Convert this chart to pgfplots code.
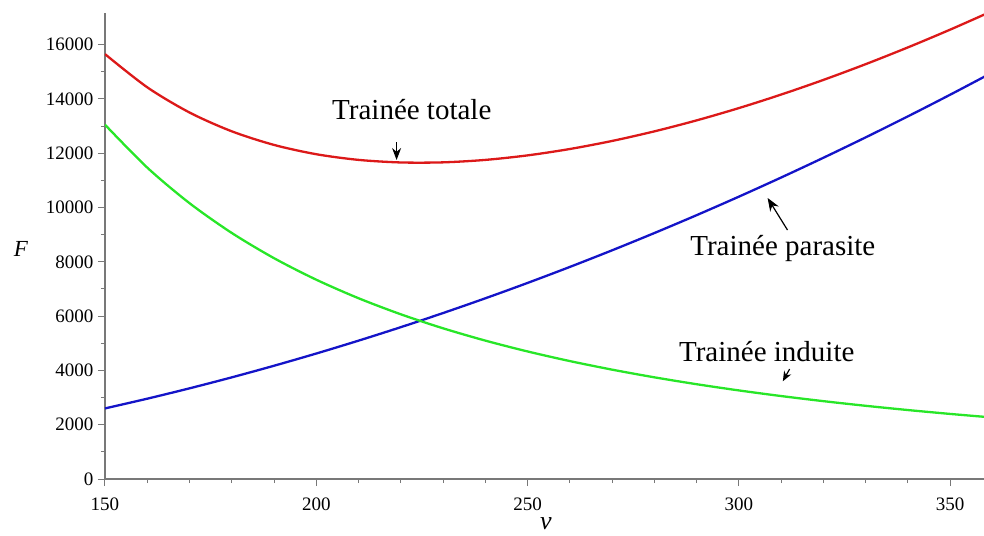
\documentclass[border=0pt]{standalone}
\usepackage{pgfplots}
\pgfplotsset{compat=1.18}
\usepackage{fontspec}
\setmainfont{Liberation Serif}
\usetikzlibrary{arrows.meta}
\definecolor{cred}{RGB}{220,25,25}
\definecolor{cblue}{RGB}{20,20,200}
\definecolor{cgreen}{RGB}{40,230,40}
\definecolor{axgray}{RGB}{120,120,120}
\pgfplotstableread{
v P I T
150 2600.0 13050.0 15650.0
160 2958.2 11469.7 14427.9
170 3339.6 10160.0 13499.6
180 3744.0 9062.5 12806.5
190 4171.6 8133.7 12305.3
200 4622.2 7340.6 11962.8
210 5096.0 6658.2 11754.2
220 5592.9 6066.6 11659.5
230 6112.9 5550.6 11663.5
240 6656.0 5097.6 11753.6
250 7222.2 4698.0 11920.2
260 7811.6 4343.6 12155.2
270 8424.0 4027.8 12451.8
280 9059.6 3745.2 12804.8
290 9718.2 3491.4 13209.6
300 10400.0 3262.5 13662.5
310 11104.9 3055.4 14160.3
320 11832.9 2867.4 14700.3
330 12584.0 2696.3 15280.3
340 13358.2 2540.0 15898.2
350 14155.6 2396.9 16552.5
360 14976.0 2265.6 17241.6
}\data
\begin{document}
\begin{tikzpicture}
\begin{axis}[
  scale only axis,
  width=879pt, height=465.6pt,
  xmin=150, xmax=358, ymin=0, ymax=17150,
  clip mode=individual,
  axis x line*=bottom, axis y line*=left,
  axis line style={axgray, line width=1.2pt, -},
  xtick={150,200,...,350}, minor x tick num=4,
  ytick={0,2000,...,16000}, minor y tick num=1,
  tick align=outside,
  major tick length=7pt, minor tick length=4pt,
  tick style={axgray, line width=1pt},
  scaled ticks=false,
  /pgf/number format/1000 sep={},
  /pgf/number format/assume math mode=true,
  ticklabel style={font=\fontsize{19}{21}\selectfont, black},
  xticklabel style={yshift=-8pt},
  yticklabel style={xshift=-1pt},
]
\addplot[cred, line width=2.3pt, smooth] table[x=v,y=T] {\data};
\addplot[cblue, line width=2.3pt, smooth] table[x=v,y=P] {\data};
\addplot[cgreen, line width=2.3pt, smooth] table[x=v,y=I] {\data};
\node[font=\fontsize{29}{33}\selectfont] at (axis cs:222.6,13590) {Trainée totale};
\node[font=\fontsize{29}{33}\selectfont] at (axis cs:310.4,8508) {Trainée parasite};
\node[font=\fontsize{29}{33}\selectfont] at (axis cs:306.6,4678) {Trainée induite};
\draw[line width=1.2pt, -{Stealth[length=12pt,width=9pt]}] (axis cs:219,12400) -- (axis cs:219,11750);
\draw[line width=1.2pt, -{Stealth[length=13pt,width=10pt]}] (axis cs:311.5,9171) -- (axis cs:306.8,10350);
\draw[line width=1.2pt, -{Stealth[length=10pt,width=8pt]}] (axis cs:312,4050) -- (axis cs:310.4,3600);
\node[font=\fontsize{23}{25}\selectfont] at (axis description cs:0,0.493) [xshift=-84pt] {\textit{F}};
\node[font=\fontsize{26}{28}\selectfont] at (axis description cs:0.5,0) [yshift=-45pt, xshift=1.5pt] {\textit{v}};
\end{axis}
\pgfresetboundingbox
\path (current axis.south west) ++(-105pt,-57pt) coordinate (bl);
\path (current axis.north east) ++(0pt,13.4pt) coordinate (tr);
\path[use as bounding box] (bl) rectangle (tr);
\end{tikzpicture}
\end{document}
